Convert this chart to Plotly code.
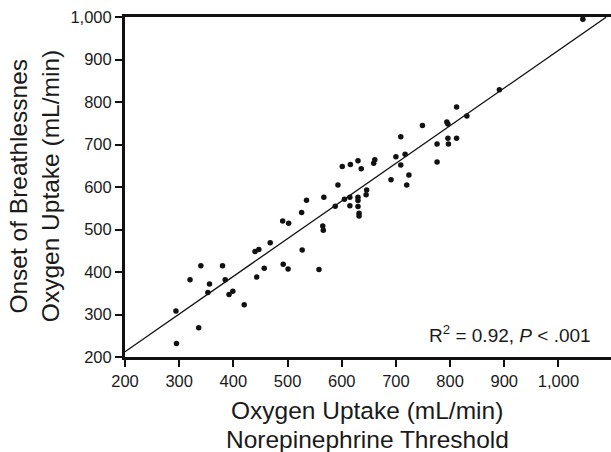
import plotly.graph_objects as go

# Norepinephrine threshold VO2 (mL/min)
ne_threshold = [294, 295, 320, 340, 336, 356, 353, 380, 385, 392, 399, 420, 440, 447, 443,
                457, 468, 491, 502, 492, 501, 526, 535, 527, 558, 565, 566, 567, 588, 605,
                615, 615, 630, 630, 630, 632, 632, 645, 646, 601, 616, 630, 636, 593, 1045,
                891, 812, 831, 749, 794, 796, 709, 796, 812, 776, 797, 700, 717, 709, 776,
                724, 691, 720, 661, 659]
# Onset of breathlessness VO2 (mL/min)
breathlessness = [308, 232, 382, 415, 269, 372, 352, 415, 382, 347, 355, 323, 448, 453, 388,
                  409, 469, 520, 515, 418, 407, 540, 569, 452, 406, 508, 498, 576, 555, 571,
                  556, 576, 576, 568, 554, 538, 532, 582, 593, 648, 653, 662, 643, 605, 995,
                  829, 788, 767, 745, 753, 748, 718, 715, 715, 701, 701, 671, 677, 652, 659,
                  628, 617, 605, 664, 656]

# Regression line
fit_x = [200, 1088]
fit_y = [212.5, 999.5]

x_ticks = [200, 300, 400, 500, 600, 700, 800, 900, 1000]
y_ticks = [200, 300, 400, 500, 600, 700, 800, 900, 1000]

FONT = "Liberation Sans, Arial, Helvetica, sans-serif"

fig = go.Figure()
fig.add_trace(go.Scatter(x=fit_x, y=fit_y, mode="lines",
                         line=dict(color="#111111", width=1.3), showlegend=False,
                         hoverinfo="skip"))
fig.add_trace(go.Scatter(x=ne_threshold, y=breathlessness, mode="markers",
                         marker=dict(color="#111111", size=5.5), showlegend=False))

fig.update_xaxes(range=[200, 1097], tickvals=x_ticks, tickformat=",d",
                 showgrid=False, zeroline=False,
                 showline=True, linecolor="#111111", linewidth=3, mirror=True,
                 ticks="outside", ticklen=7, tickwidth=1.5, tickcolor="#111111",
                 tickfont=dict(family=FONT, size=16.5, color="#1a1a1a"))
fig.update_yaxes(range=[200, 1000], tickvals=y_ticks, tickformat=",d",
                 showgrid=False, zeroline=False,
                 showline=True, linecolor="#111111", linewidth=3,
                 ticks="outside", ticklen=7, tickwidth=1.5, tickcolor="#111111",
                 tickfont=dict(family=FONT, size=16.5, color="#1a1a1a"))

title_font = dict(family=FONT, size=24.5, color="#1a1a1a")
annotations = [
    dict(text="Oxygen Uptake (mL/min)", x=0.498, y=-0.1588, xref="paper", yref="paper",
         xanchor="center", yanchor="middle", showarrow=False, font=title_font),
    dict(text="Norepinephrine Threshold", x=0.498, y=-0.2426, xref="paper", yref="paper",
         xanchor="center", yanchor="middle", showarrow=False, font=title_font),
    dict(text="Onset of Breathlessnes", x=-0.2200, y=0.5015, xref="paper", yref="paper",
         xanchor="center", yanchor="middle", showarrow=False, textangle=-90, font=title_font),
    dict(text="Oxygen Uptake (mL/min)", x=-0.1530, y=0.5015, xref="paper", yref="paper",
         xanchor="center", yanchor="middle", showarrow=False, textangle=-90, font=title_font),
    dict(text="R<sup>2</sup> = 0.92, <i>P</i> < .001", x=0.963, y=0.0676, xref="paper",
         yref="paper", xanchor="right", yanchor="middle", showarrow=False,
         font=dict(family=FONT, size=19, color="#1a1a1a")),
]

fig.update_layout(width=611, height=452, autosize=False,
                  margin=dict(l=125, r=0, t=17, b=95),
                  plot_bgcolor="white", paper_bgcolor="white",
                  annotations=annotations, showlegend=False)

fig.write_html("out.html", config={"displayModeBar": False},
               post_script="document.body.style.margin='0';document.body.style.overflow='hidden';")
